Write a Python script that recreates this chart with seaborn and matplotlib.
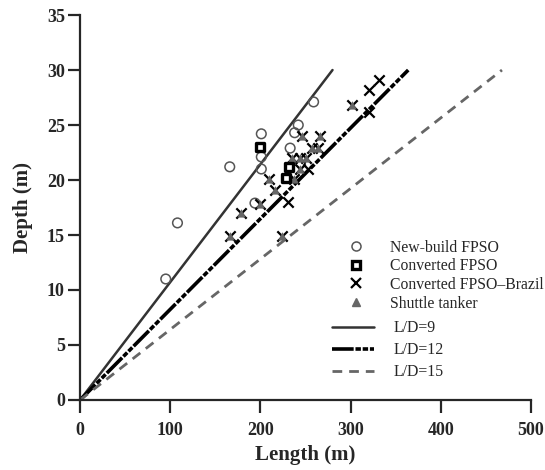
import pandas as pd
import matplotlib
matplotlib.use('Agg')
import matplotlib.pyplot as plt
from matplotlib.lines import Line2D
import seaborn as sns

# --- data (length m, depth m) ---
newbuild_len = [95, 108, 166, 194, 201, 201, 201, 233, 238, 242, 259]
newbuild_dep = [11.0, 16.1, 21.2, 17.9, 24.2, 22.1, 21.0, 22.9, 24.3, 25.0, 27.1]

converted_len = [200, 232, 228]
converted_dep = [23.0, 21.2, 20.15]

brazil_len = [166, 224, 179, 200, 231, 216, 210, 237, 244, 253, 235, 244, 251,
              257, 264, 246, 266, 302, 320, 320, 332]
brazil_dep = [14.9, 14.9, 17.0, 17.8, 18.0, 19.1, 20.1, 20.1, 21.0, 21.0, 22.0, 22.0, 22.0,
              22.9, 22.9, 24.0, 24.0, 26.8, 26.2, 28.2, 29.1]

shuttle_len = [166, 224, 179, 200, 216, 210, 237, 244, 235, 244, 251,
               257, 264, 246, 266, 302]
shuttle_dep = [14.9, 14.9, 17.0, 17.8, 19.1, 20.1, 20.1, 21.0, 22.0, 22.0, 22.0,
               22.9, 22.9, 24.0, 24.0, 26.8]

# reference lines, drawn from the origin up to depth 30
ratio_labels = ['L/D=9', 'L/D=12', 'L/D=15']
ratio_end_len = [280, 364, 468]
ratio_end_dep = [30, 30, 30]

sns.set_style('ticks')
plt.rcParams['font.family'] = ['Liberation Serif', 'DejaVu Serif']

fig, ax = plt.subplots(figsize=(5.45, 4.7), dpi=100)
fig.subplots_adjust(left=0.147, right=0.974, bottom=0.149, top=0.968)

line_styles = [
    dict(color='#333333', lw=1.8, linestyle='-'),
    dict(color='black', lw=2.6, linestyle=(0, (6, 0.5, 1.5, 0.5, 1.5, 0.5))),
    dict(color='#666666', lw=2.0, linestyle=(0, (3.5, 2.5))),
]
for lab, L, D, st in zip(ratio_labels, ratio_end_len, ratio_end_dep, line_styles):
    df_line = pd.DataFrame({'Length': [0, L], 'Depth': [0, D]})
    sns.lineplot(data=df_line, x='Length', y='Depth', ax=ax, legend=False,
                 sort=False, **st)

sns.scatterplot(x=newbuild_len, y=newbuild_dep, ax=ax, marker='o', s=48,
                facecolors='none', edgecolor='#555555', linewidth=1.1, zorder=3)
sns.scatterplot(x=brazil_len, y=brazil_dep, ax=ax, marker='x', s=55,
                color='black', linewidth=1.6, zorder=4)
sns.scatterplot(x=shuttle_len, y=shuttle_dep, ax=ax, marker='^', s=28,
                color='#666666', edgecolor='#666666', linewidth=0.5, zorder=5)
sns.scatterplot(x=converted_len, y=converted_dep, ax=ax, marker='s', s=40,
                facecolor='white', edgecolor='black', linewidth=2.4, zorder=6)

ax.set_xlim(0, 500)
ax.set_ylim(0, 35)
ax.set_xticks(range(0, 501, 100))
ax.set_yticks(range(0, 36, 5))
sns.despine(ax=ax)
for sp in ['left', 'bottom']:
    ax.spines[sp].set_linewidth(1.6)
ax.tick_params(direction='out', length=9, width=1.6, labelsize=13)
ax.tick_params(axis='x', pad=7)
ax.tick_params(axis='y', pad=2)
for t in ax.get_xticklabels() + ax.get_yticklabels():
    t.set_fontweight('bold')
ax.set_xlabel('Length (m)', fontsize=15, fontweight='bold', labelpad=4)
ax.set_ylabel('Depth (m)', fontsize=15, fontweight='bold', labelpad=10)

# legend for the vessel groups
mk_handles = [
    Line2D([], [], ls='none', marker='o', ms=6.5, mfc='none', mec='#555555', mew=1.1),
    Line2D([], [], ls='none', marker='s', ms=6, mfc='white', mec='black', mew=2.4),
    Line2D([], [], ls='none', marker='x', ms=6.5, color='black', mew=1.6),
    Line2D([], [], ls='none', marker='^', ms=5.5, color='#666666'),
]
mk_labels = ['New-build FPSO', 'Converted FPSO', 'Converted FPSO\u2013Brazil', 'Shuttle tanker']
leg1 = ax.legend(mk_handles, mk_labels, loc='upper left', bbox_to_anchor=(0.58, 0.433),
                 frameon=False, fontsize=11.3, handlelength=1.0, handletextpad=1.7,
                 labelspacing=0.17, borderaxespad=0)
ax.add_artist(leg1)

ln_handles = [Line2D([], [], **st) for st in line_styles]
ax.legend(ln_handles, ratio_labels, loc='upper left', bbox_to_anchor=(0.545, 0.223),
          frameon=False, fontsize=11.3, handlelength=2.7, handletextpad=1.2,
          labelspacing=0.38, borderaxespad=0)

fig.savefig('out.png', dpi=100)
